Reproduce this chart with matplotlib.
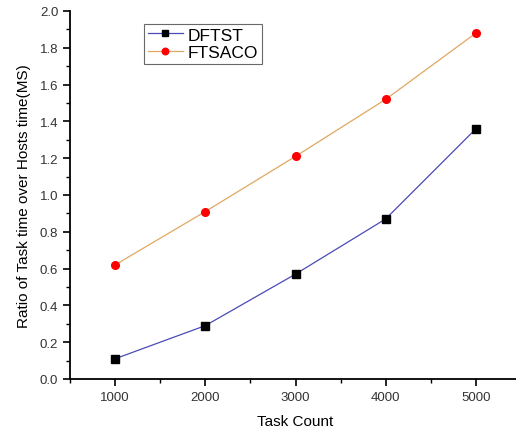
import matplotlib.pyplot as plt
from matplotlib.ticker import MultipleLocator

plt.rcParams['font.family'] = ['Liberation Sans', 'DejaVu Sans']

tareas = [1000, 2000, 3000, 4000, 5000]
dftst = [0.11, 0.29, 0.57, 0.87, 1.36]
ftsaco = [0.62, 0.91, 1.21, 1.52, 1.88]

fig = plt.figure(figsize=(5.16, 4.35), dpi=100)
ax = fig.add_axes([70/516, 55/435, 451/516, 368/435])

ax.plot(tareas, dftst, color='#4a4ab8', lw=0.9, marker='s', ms=5.5,
        mfc='black', mec='black', label='DFTST')
ax.plot(tareas, ftsaco, color='#e0a860', lw=0.9, marker='o', ms=5.5,
        mfc='red', mec='red', label='FTSACO')

ax.set_xlim(500, 5500)
ax.set_ylim(0, 2.0)
ax.xaxis.set_major_locator(MultipleLocator(1000))
ax.xaxis.set_minor_locator(MultipleLocator(500))
ax.yaxis.set_major_locator(MultipleLocator(0.2))
ax.yaxis.set_minor_locator(MultipleLocator(0.1))
ax.set_yticklabels([f'{v:.1f}' for v in ax.get_yticks()])
ax.tick_params(which='major', direction='out', length=5, width=1.2,
               labelsize=9.5, labelcolor='#333333')
ax.tick_params(which='minor', direction='out', length=3, width=1.0)
ax.spines['top'].set_visible(False)
ax.spines['right'].set_visible(False)
ax.spines['left'].set_linewidth(1.3)
ax.spines['bottom'].set_linewidth(1.3)

ax.set_xlabel('Task Count', fontsize=11, labelpad=8)
ax.set_ylabel('Ratio of Task time over Hosts time(MS)', fontsize=11, labelpad=6)

leg = ax.legend(loc='upper left', bbox_to_anchor=(0.165, 0.965), fontsize=12.5,
                frameon=True, fancybox=False, edgecolor='#444444',
                handlelength=2.0, borderpad=0.2, labelspacing=0.15,
                handletextpad=0.3, borderaxespad=0, markerscale=0.85)
leg.get_frame().set_linewidth(0.8)

fig.savefig('out.png', dpi=100)
